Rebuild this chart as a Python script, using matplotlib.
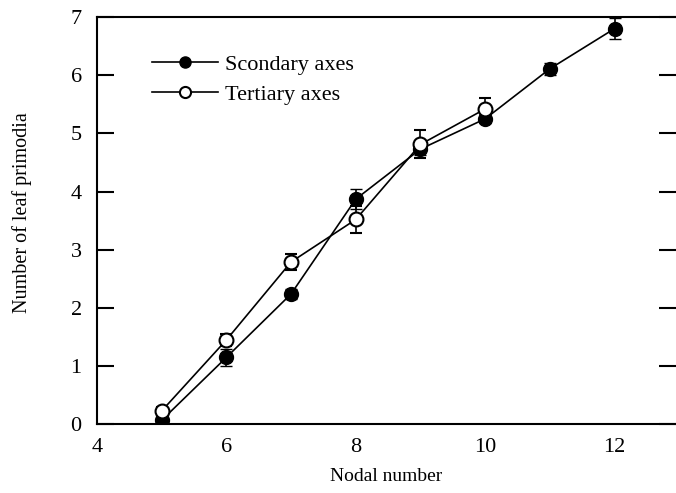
import matplotlib.pyplot as plt
from matplotlib.lines import Line2D

plt.rcParams['font.family'] = ['Liberation Serif', 'DejaVu Serif']

# secondary axes (filled)
sec_x = [5, 6, 7, 8, 9, 10, 11, 12]
sec_y = [0.07, 1.15, 2.24, 3.87, 4.73, 5.25, 6.11, 6.80]
sec_err = [0.05, 0.15, 0.08, 0.17, 0.10, 0.08, 0.10, 0.18]

# tertiary axes (open)
ter_x = [5, 6, 7, 8, 9, 10]
ter_y = [0.23, 1.45, 2.79, 3.52, 4.81, 5.42]
ter_err = [0.06, 0.10, 0.13, 0.24, 0.24, 0.18]

fig = plt.figure(figsize=(6.76, 4.93), dpi=100)
ax = fig.add_axes([97 / 676, 1 - 424.3 / 493, 1 - 97 / 676, (424.3 - 17) / 493])

ax.errorbar(sec_x, sec_y, yerr=sec_err, color='black', lw=1.2, marker='o',
            ms=10, mfc='black', mec='black', capsize=4, elinewidth=1.2)
ax.errorbar(ter_x, ter_y, yerr=ter_err, color='black', lw=1.2, marker='o',
            ms=10, mfc='white', mec='black', mew=1.5, capsize=4, elinewidth=1.2)

ax.set_xlim(4, 12.95)
ax.set_ylim(0, 7)
ax.set_xticks([4, 6, 8, 10, 12])
ax.set_yticks(range(8))
ax.tick_params(axis='x', length=0, labelsize=16, pad=10)
ax.tick_params(axis='y', direction='in', length=12, width=1.5, labelsize=16,
               right=True, pad=11)
ax.spines['right'].set_visible(False)
for s in ['left', 'top', 'bottom']:
    ax.spines[s].set_linewidth(1.5)

ax.set_xlabel('Nodal number', fontsize=14)
ax.xaxis.set_label_coords(0.5, -0.108)
ax.set_ylabel('Number of leaf primodia', fontsize=14.5)
ax.yaxis.set_label_coords(-0.113, 0.52)

handles = [
    Line2D([], [], color='black', lw=1.2, marker='o', ms=8, mfc='black', mec='black'),
    Line2D([], [], color='black', lw=1.2, marker='o', ms=8, mfc='white', mec='black', mew=1.5),
]
ax.legend(handles, ['Scondary axes', 'Tertiary axes'], loc='upper left',
          bbox_to_anchor=(0.060, 0.957), frameon=False, fontsize=16,
          handlelength=3.0, handletextpad=0.3, labelspacing=0.4)

fig.savefig('out.png', dpi=100)
